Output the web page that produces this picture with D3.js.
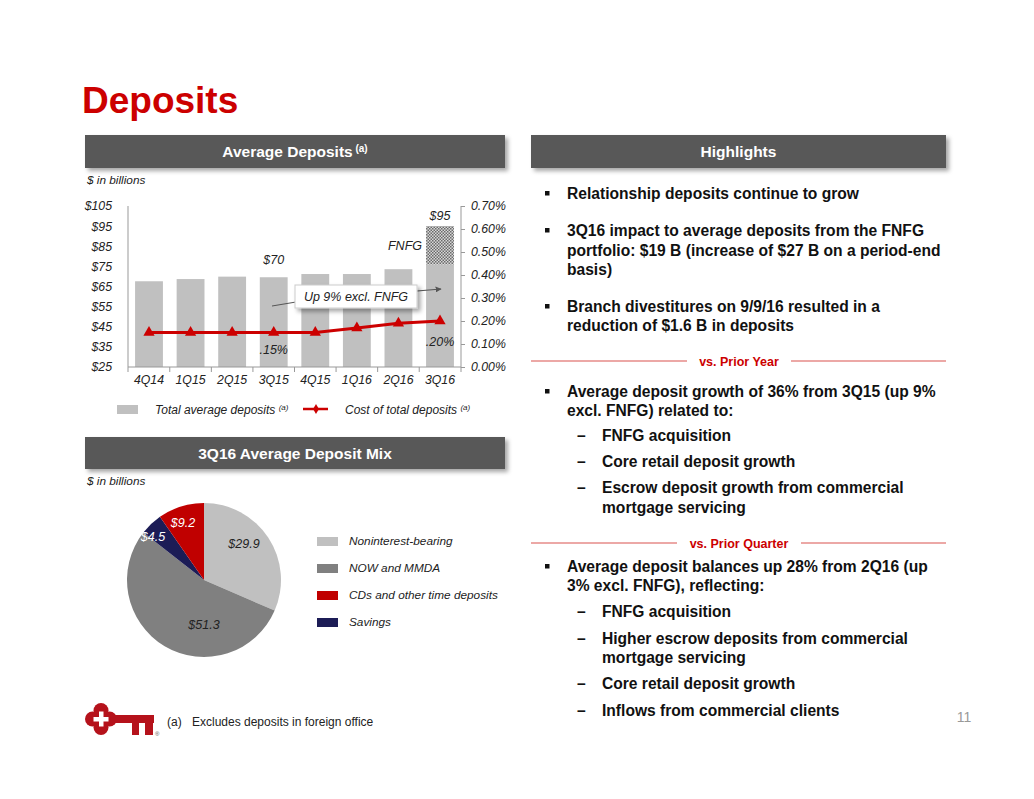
<!DOCTYPE html>
<html><head><meta charset="utf-8">
<script src="https://cdn.jsdelivr.net/npm/d3@7"></script>
<style>
html,body{margin:0;padding:0;background:#fff;}
svg{display:block;font-family:"Liberation Sans",Arial,sans-serif;}
</style></head>
<body>
<svg id="c" width="1034" height="799"></svg>
<script>
// ---- data ----
const quarters = ["4Q14","1Q15","2Q15","3Q15","4Q15","1Q16","2Q16","3Q16"];
const totalDeposits = [67.6, 68.7, 69.9, 69.6, 71.2, 71.2, 73.6, 95.0];
const fnfgDeposits = [0, 0, 0, 0, 0, 0, 0, 19.0];
const costOfDeposits = [0.15, 0.15, 0.15, 0.15, 0.15, 0.17, 0.19, 0.20];
const leftTicks = [25, 35, 45, 55, 65, 75, 85, 95, 105];
const rightTicks = [0, 0.1, 0.2, 0.3, 0.4, 0.5, 0.6, 0.7];
const mixLabels = ["Noninterest-bearing", "NOW and MMDA", "Savings", "CDs and other time deposits"];
const mixValues = [29.9, 51.3, 4.5, 9.2];
const mixLegendOrder = ["Noninterest-bearing", "NOW and MMDA", "CDs and other time deposits", "Savings"];

const svg = d3.select("#c");
const RED = "#cc0000";
const defs = svg.append("defs");
const f = defs.append("filter").attr("id","sh").attr("x","-5%").attr("y","-20%").attr("width","115%").attr("height","160%");
f.append("feDropShadow").attr("dx",3).attr("dy",3).attr("stdDeviation",2).attr("flood-color","#000").attr("flood-opacity",0.35);
const pat = defs.append("pattern").attr("id","dots").attr("width",3).attr("height",3).attr("patternUnits","userSpaceOnUse");
pat.append("rect").attr("width",3).attr("height",3).attr("fill","#d8d8d8");
pat.append("rect").attr("width",1.5).attr("height",1.5).attr("fill","#6a6a6a");
pat.append("rect").attr("x",1.5).attr("y",1.5).attr("width",1.5).attr("height",1.5).attr("fill","#6a6a6a");

// title
svg.append("text").attr("x",82).attr("y",113).attr("fill",RED).attr("font-size",37).attr("font-weight","bold").text("Deposits");

// header bars
function header(x,y,w,h,label,sup){
  svg.append("rect").attr("x",x).attr("y",y).attr("width",w).attr("height",h).attr("fill","#595959").attr("filter","url(#sh)");
  const t = svg.append("text").attr("x",x+w/2).attr("y",y+h/2+5.5).attr("text-anchor","middle").attr("fill","#fff").attr("font-size",15.5).attr("font-weight","bold").text(label);
  if(sup){ t.append("tspan").attr("font-size",10).attr("dy",-5).text(" "+sup); }
}
header(85,135,420,33,"Average Deposits","(a)");
header(531,135,415,33,"Highlights");
header(85,437,420,32,"3Q16 Average Deposit Mix");

svg.append("text").attr("x",87).attr("y",184).attr("font-size",11.8).attr("font-style","italic").attr("fill","#222").text("$ in billions");
svg.append("text").attr("x",87).attr("y",485).attr("font-size",11.8).attr("font-style","italic").attr("fill","#222").text("$ in billions");

// ---- bar chart ----
const x = d3.scaleBand().domain(quarters).range([128,461]).paddingInner(0.33).paddingOuter(0.17);
const yL = d3.scaleLinear().domain([25,105]).range([367,206]);
const yR = d3.scaleLinear().domain([0,0.7]).range([367,206]);
const g = svg.append("g");

const bars = quarters.map((q,i)=>({q, base: totalDeposits[i]-fnfgDeposits[i], total: totalDeposits[i], fnfg: fnfgDeposits[i]}));
g.selectAll("rect.b").data(bars).join("rect").attr("class","b")
  .attr("x",d=>x(d.q)).attr("width",x.bandwidth())
  .attr("y",d=>yL(d.base)).attr("height",d=>yL(25)-yL(d.base)).attr("fill","#c0c0c0");
g.selectAll("rect.f").data(bars.filter(d=>d.fnfg>0)).join("rect").attr("class","f")
  .attr("x",d=>x(d.q)).attr("width",x.bandwidth())
  .attr("y",d=>yL(d.total)).attr("height",d=>yL(d.base)-yL(d.total)).attr("fill","url(#dots)");

// axes
const axL = d3.axisLeft(yL).tickValues(leftTicks).tickFormat(d=>"$"+d).tickSize(0).tickPadding(16);
const gl = svg.append("g").attr("transform","translate(128,0)").call(axL);
const axR = d3.axisRight(yR).tickValues(rightTicks).tickFormat(d=>d3.format(".2f")(d)+"%").tickSize(4).tickPadding(6);
const gr = svg.append("g").attr("transform","translate(461,0)").call(axR);
const axB = d3.axisBottom(x).tickSize(0).tickPadding(8);
const gb = svg.append("g").attr("transform","translate(0,367)").call(axB);
[gl,gr,gb].forEach(a=>{
  a.selectAll(".domain").attr("stroke","#999");
  a.selectAll(".tick line").attr("stroke","#999");
  a.selectAll("text").attr("font-size",12.3).attr("font-style","italic").attr("fill","#222").attr("font-family","Liberation Sans, Arial, sans-serif");
});
gl.selectAll(".domain").attr("d","M0,206V367");
gr.selectAll(".domain").attr("d","M0,206V367");
gb.selectAll(".domain").attr("d","M128,0H461");
// category boundary ticks
const bounds = quarters.slice(1).map(q=>x(q)-x.step()*x.paddingInner()/2).concat([128,461]);
svg.append("g").selectAll("line").data(bounds).join("line")
  .attr("x1",d=>d).attr("x2",d=>d).attr("y1",367).attr("y2",372).attr("stroke","#999");

// line
const line = d3.line().x((d,i)=>x(quarters[i])+x.bandwidth()/2).y(d=>yR(d));
g.append("path").datum(costOfDeposits).attr("d",line).attr("fill","none").attr("stroke","#cc0000").attr("stroke-width",3);
g.selectAll("path.m").data(costOfDeposits).join("path").attr("class","m")
  .attr("transform",(d,i)=>`translate(${x(quarters[i])+x.bandwidth()/2},${yR(d)})`)
  .attr("d",d3.symbol(d3.symbolTriangle,55)).attr("fill","#cc0000");

// labels
function lab(t,xx,yy,anchor,size,col){
  svg.append("text").attr("x",xx).attr("y",yy).attr("text-anchor",anchor||"middle").attr("font-size",size||12.5).attr("font-style","italic").attr("fill",col||"#222").text(t);
}
const cx = q=>x(q)+x.bandwidth()/2;
lab("$70", cx("3Q15"), yL(70)-12);
lab("$95", cx("3Q16"), yL(95)-6);
lab("FNFG", cx("3Q16")-18, 250, "end");
lab(".15%", cx("3Q15"), yR(0.15)+21);
lab(".20%", cx("3Q16"), yR(0.20)+25);

// annotation
svg.append("line").attr("x1",272).attr("y1",306).attr("x2",296).attr("y2",302).attr("stroke","#555").attr("stroke-width",1);
defs.append("marker").attr("id","arr").attr("viewBox","0 0 10 10").attr("refX",9).attr("refY",5).attr("markerWidth",5).attr("markerHeight",5).attr("orient","auto")
  .append("path").attr("d","M0,0L10,5L0,10z").attr("fill","#555");
svg.append("line").attr("x1",417).attr("y1",291).attr("x2",441).attr("y2",289).attr("stroke","#555").attr("stroke-width",1.2).attr("marker-end","url(#arr)");
svg.append("rect").attr("x",295).attr("y",285).attr("width",122).attr("height",23).attr("fill","#fff").attr("stroke","#ccc").attr("filter","url(#sh)");
lab("Up 9% excl. FNFG", 356, 301, "middle", 12.5);

// legend bar chart
svg.append("rect").attr("x",117).attr("y",405).attr("width",21).attr("height",9).attr("fill","#c0c0c0");
const lt1 = svg.append("text").attr("x",155).attr("y",414).attr("font-size",12).attr("font-style","italic").attr("fill","#222").text("Total average deposits ");
lt1.append("tspan").attr("font-size",8).attr("dy",-4).text("(a)");
svg.append("line").attr("x1",303).attr("x2",328).attr("y1",409).attr("y2",409).attr("stroke","#cc0000").attr("stroke-width",2.5);
svg.append("path").attr("transform","translate(316,409)").attr("d",d3.symbol(d3.symbolDiamond,30)).attr("fill","#cc0000");
const lt2 = svg.append("text").attr("x",345).attr("y",414).attr("font-size",12).attr("font-style","italic").attr("fill","#222").text("Cost of total deposits ");
lt2.append("tspan").attr("font-size",8).attr("dy",-4).text("(a)");

// ---- pie ----
const colors = d3.scaleOrdinal().domain(mixLabels).range(["#c0c0c0","#808080","#1c1c56","#c00000"]);
const pie = d3.pie().sort(null).value(d=>d.v);
const arcs = pie(mixLabels.map((l,i)=>({label:l, v:mixValues[i]})));
const R = 77;
const pg = svg.append("g").attr("transform","translate(204,580)");
pg.selectAll("path").data(arcs).join("path").attr("d",d3.arc().innerRadius(0).outerRadius(R)).attr("fill",d=>colors(d.data.label));
const labPos = {"Noninterest-bearing":[40,-32,"#222"],"NOW and MMDA":[0,49,"#222"],"Savings":[-51,-39,"#fff"],"CDs and other time deposits":[-21,-53,"#fff"]};
pg.selectAll("text").data(arcs).join("text")
  .attr("x",d=>labPos[d.data.label][0]).attr("y",d=>labPos[d.data.label][1])
  .attr("text-anchor","middle").attr("font-size",12.5).attr("font-style","italic")
  .attr("fill",d=>labPos[d.data.label][2]).text(d=>"$"+d.data.v.toFixed(1));

// pie legend
const lg = svg.append("g").selectAll("g").data(mixLegendOrder).join("g").attr("transform",(d,i)=>`translate(317,${537+i*27})`);
lg.append("rect").attr("width",21).attr("height",9).attr("fill",d=>colors(d));
lg.append("text").attr("x",32).attr("y",8).attr("font-size",11.8).attr("font-style","italic").attr("fill","#222").text(d=>d);

// ---- highlights text ----
const T = svg.append("g").attr("font-size",15.6).attr("font-weight","bold").attr("fill","#111");
function bullet(y){ svg.append("rect").attr("x",545).attr("y",y-8).attr("width",4.5).attr("height",4.5).attr("fill","#111"); }
function line2(t,xx,y){ T.append("text").attr("x",xx).attr("y",y).text(t); }
bullet(199); line2("Relationship deposits continue to grow",567,199);
bullet(236); line2("3Q16 impact to average deposits from the FNFG",567,236);
line2("portfolio: $19 B (increase of $27 B on a period-end",567,256);
line2("basis)",567,275);
bullet(312); line2("Branch divestitures on 9/9/16 resulted in a",567,312);
line2("reduction of $1.6 B in deposits",567,331);

function divider(label,y,l1,l2){
  svg.append("line").attr("x1",531).attr("x2",l1).attr("y1",y).attr("y2",y).attr("stroke","#d9534f").attr("stroke-width",1.2);
  svg.append("line").attr("x1",l2).attr("x2",946).attr("y1",y).attr("y2",y).attr("stroke","#d9534f").attr("stroke-width",1.2);
  svg.append("text").attr("x",(l1+l2)/2).attr("y",y+4.5).attr("text-anchor","middle").attr("font-size",12.5).attr("font-weight","bold").attr("fill","#cc0000").text(label);
}
divider("vs. Prior Year",361,687,791);
divider("vs. Prior Quarter",543,677,801);

bullet(397); line2("Average deposit growth of 36% from 3Q15 (up 9%",567,397);
line2("excl. FNFG) related to:",567,416);
function dash(t,y){ T.append("text").attr("x",577).attr("y",y).text("–"); line2(t,602,y); }
dash("FNFG acquisition",441);
dash("Core retail deposit growth",467);
dash("Escrow deposit growth from commercial",493);
line2("mortgage servicing",602,513);

bullet(572); line2("Average deposit balances up 28% from 2Q16 (up",567,572);
line2("3% excl. FNFG), reflecting:",567,591);
dash("FNFG acquisition",617);
dash("Higher escrow deposits from commercial",644);
line2("mortgage servicing",602,663);
dash("Core retail deposit growth",689);
dash("Inflows from commercial clients",716);

// footnote & page number
svg.append("text").attr("x",167).attr("y",726).attr("font-size",12).attr("fill","#222").text("(a)");
svg.append("text").attr("x",192).attr("y",726).attr("font-size",12).attr("fill","#222").text("Excludes deposits in foreign office");
svg.append("text").attr("x",964).attr("y",722).attr("text-anchor","middle").attr("font-size",14).attr("fill","#999").text("11");

// key logo
const KR = "#b5121b";
const kg = svg.append("g").attr("fill",KR);
[[101,710.5],[101,727.5],[92.5,719],[109.5,719]].forEach(p=>kg.append("circle").attr("cx",p[0]).attr("cy",p[1]).attr("r",7.5));
kg.append("circle").attr("cx",101).attr("cy",719).attr("r",10);
kg.append("rect").attr("x",112).attr("y",715).attr("width",42).attr("height",8);
kg.append("rect").attr("x",132).attr("y",720).attr("width",7).attr("height",15);
kg.append("rect").attr("x",145).attr("y",720).attr("width",8).attr("height",15);
svg.append("rect").attr("x",99).attr("y",711.5).attr("width",4.5).attr("height",15).attr("fill","#fff");
svg.append("rect").attr("x",93.5).attr("y",717).attr("width",15).attr("height",4.5).attr("fill","#fff");
svg.append("text").attr("x",155).attr("y",736).attr("font-size",6).attr("fill","#555").text("®");
</script>
</body></html>
